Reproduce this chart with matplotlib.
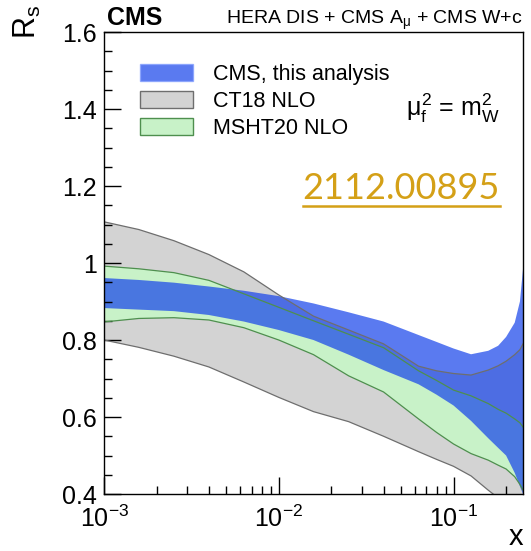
import matplotlib
matplotlib.use('Agg')
import matplotlib.pyplot as plt
from matplotlib.ticker import LogLocator, MultipleLocator, FuncFormatter, NullFormatter
from matplotlib.patches import Patch
from matplotlib.lines import Line2D

# Datos (R_s en funcion de x)
x = [0.001, 0.00158, 0.00251, 0.00398, 0.00631, 0.01, 0.0158, 0.0251,
     0.0398, 0.0631, 0.08, 0.1, 0.126, 0.158, 0.18, 0.2, 0.224, 0.24, 0.25]
ct18_up = [1.107, 1.087, 1.058, 1.022, 0.977, 0.917, 0.862, 0.826,
           0.79, 0.732, 0.72, 0.713, 0.709, 0.722, 0.733, 0.745, 0.762, 0.775, 0.79]
ct18_lo = [0.80, 0.781, 0.758, 0.73, 0.691, 0.651, 0.614, 0.588,
           0.55, 0.51, 0.49, 0.472, 0.447, 0.41, 0.39, 0.37, 0.35, 0.34, 0.33]
msht_up = [0.992, 0.985, 0.975, 0.955, 0.92, 0.885, 0.85, 0.815,
           0.78, 0.72, 0.695, 0.67, 0.655, 0.635, 0.62, 0.61, 0.595, 0.585, 0.574]
msht_lo = [0.847, 0.856, 0.858, 0.852, 0.832, 0.80, 0.762, 0.707,
           0.665, 0.595, 0.56, 0.53, 0.505, 0.488, 0.475, 0.465, 0.445, 0.425, 0.41]
cms_up = [0.961, 0.956, 0.949, 0.939, 0.928, 0.914, 0.895, 0.872,
          0.848, 0.813, 0.795, 0.778, 0.763, 0.772, 0.785, 0.808, 0.845, 0.90, 0.985]
cms_lo = [0.883, 0.879, 0.875, 0.865, 0.848, 0.826, 0.80, 0.762,
          0.722, 0.685, 0.658, 0.63, 0.59, 0.545, 0.52, 0.50, 0.455, 0.42, 0.40]

labels = ['CMS, this analysis', 'CT18 NLO', 'MSHT20 NLO']

plt.rcParams['font.family'] = ['Liberation Sans', 'DejaVu Sans']
plt.rcParams['mathtext.fontset'] = 'custom'
plt.rcParams['mathtext.rm'] = 'Liberation Sans'
plt.rcParams['mathtext.it'] = 'Liberation Sans'
plt.rcParams['mathtext.bf'] = 'Liberation Sans:bold'

fig = plt.figure(figsize=(5.31, 5.51), dpi=100)
ax = fig.add_axes([0.196, 0.1034, 0.789, 0.8385])

blue = (0.08, 0.26, 0.92)
gray_fill, gray_line = '#d3d3d3', '#6e6e6e'
green_fill, green_line = '#c8f2c8', '#4e8f4e'

# Bandas
ax.fill_between(x, ct18_lo, ct18_up, facecolor=gray_fill, lw=0)
ax.plot(x, ct18_up, color=gray_line, lw=0.9)
ax.plot(x, ct18_lo, color=gray_line, lw=0.9)
ax.fill_between(x, msht_lo, msht_up, facecolor=green_fill, lw=0)
ax.plot(x, msht_up, color=green_line, lw=0.9)
ax.plot(x, msht_lo, color=green_line, lw=0.9)
ax.fill_between(x, cms_lo, cms_up, facecolor=blue, alpha=0.7, lw=0)

ax.set_xscale('log')
ax.set_xlim(1e-3, 0.25)
ax.set_ylim(0.4, 1.6)

# Ejes estilo ROOT
ax.yaxis.set_major_locator(MultipleLocator(0.2))
ax.yaxis.set_minor_locator(MultipleLocator(0.05))
ax.yaxis.set_major_formatter(FuncFormatter(lambda v, p: '%g' % round(v, 2)))
ax.xaxis.set_major_locator(LogLocator(base=10))
ax.xaxis.set_minor_locator(LogLocator(base=10, subs=range(2, 10)))
ax.xaxis.set_minor_formatter(NullFormatter())
ax.tick_params(which='major', direction='in', length=12, width=1, labelsize=18,
               top=False, right=False)
ax.tick_params(which='minor', direction='in', length=6, width=1,
               top=False, right=False)
ax.tick_params(axis='y', pad=5)
ax.tick_params(axis='x', pad=8)
for s in ax.spines.values():
    s.set_linewidth(1)

# Leyenda
handles = [Patch(facecolor=blue, alpha=0.7, edgecolor='#7f9cff'),
           Patch(facecolor=gray_fill, edgecolor=gray_line),
           Patch(facecolor=green_fill, edgecolor=green_line)]
ax.legend(handles, labels, loc='upper left', bbox_to_anchor=(0.086, 0.931),
          frameon=False, fontsize=15.5, handlelength=2.45, handleheight=0.85,
          handletextpad=0.95, labelspacing=0.28, borderpad=0, borderaxespad=0)

# Textos
ax.text(0.007, 1.015, 'CMS', transform=ax.transAxes, fontsize=18,
        fontweight='bold', ha='left', va='baseline')
ax.text(1.0, 1.017, r'HERA DIS + CMS A$_{\mu}$ + CMS W+c', transform=ax.transAxes,
        fontsize=14, ha='right', va='baseline')
ax.text(0.833, 0.835, r'$\mu_{\rm f}^{2}$ = m$_{\rm W}^{2}$', transform=ax.transAxes,
        fontsize=18, ha='center', va='center')
fig.text(27 / 531, 1 - 22 / 551, r'R$_{\rm s}$', rotation=90, fontsize=22,
         ha='center', va='center')
fig.text(516 / 531, 1 - 537 / 551, 'x', fontsize=21, ha='center', va='center')

gold = '#d4a017'
t = ax.text(0.945, 0.638, '2112.00895', transform=ax.transAxes, fontsize=26,
            family='Lato', color=gold, ha='right', va='baseline')
fig.canvas.draw()
bb = t.get_window_extent(fig.canvas.get_renderer()).transformed(ax.transAxes.inverted())
ax.add_line(Line2D([bb.x0, bb.x1], [0.624, 0.624], transform=ax.transAxes,
                   color=gold, lw=1.8, clip_on=False))

fig.savefig('out.png', dpi=100)
